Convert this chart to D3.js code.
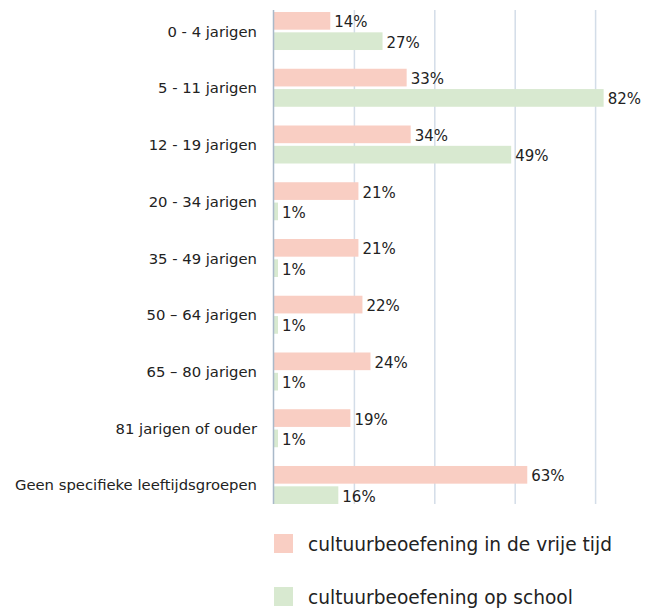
<!DOCTYPE html>
<html>
<head>
<meta charset="utf-8">
<script src="https://cdn.jsdelivr.net/npm/d3@7"></script>
<style>
  body { margin: 0; background: #fff; }
  text { font-family: "DejaVu Sans", sans-serif; fill: #222; }
</style>
</head>
<body>
<script>
// age groups, top to bottom
var categories = ["0 - 4 jarigen", "5 - 11 jarigen", "12 - 19 jarigen", "20 - 34 jarigen",
  "35 - 49 jarigen", "50 \u2013 64 jarigen", "65 \u2013 80 jarigen", "81 jarigen of ouder",
  "Geen specifieke leeftijdsgroepen"];
var seriesNames = ["cultuurbeoefening in de vrije tijd", "cultuurbeoefening op school"];
// bar lengths as drawn in the picture
var vrijeTijd = [14, 33, 34, 21, 21, 22, 24, 19, 63];
var opSchool = [27, 82, 59, 1, 1, 1, 1, 1, 16];
// printed labels (the 12-19 school bar is labelled 49% though drawn longer)
var vrijeTijdLabels = ["14%", "33%", "34%", "21%", "21%", "22%", "24%", "19%", "63%"];
var opSchoolLabels = ["27%", "82%", "49%", "1%", "1%", "1%", "1%", "1%", "16%"];
var gridTicks = [0, 20, 40, 60, 80];
var colors = ["#f9cec3", "#d8e9d0"];

var width = 664, height = 610;
var svg = d3.select("body").append("svg")
  .attr("width", width)
  .attr("height", height);

var x = d3.scaleLinear().domain([0, 100]).range([274, 676]);
var y = d3.scaleBand().domain(categories).range([12, 504]).paddingInner(0.33).paddingOuter(0);
var ySub = d3.scaleBand().domain([0, 1]).range([0, y.bandwidth()]).paddingInner(0.13);

// gridlines
svg.append("g").selectAll("line")
  .data(gridTicks.slice(1))
  .enter().append("line")
  .attr("x1", function(d) { return x(d); })
  .attr("x2", function(d) { return x(d); })
  .attr("y1", 10)
  .attr("y2", 504)
  .attr("stroke", "#d3dde8")
  .attr("stroke-width", 1.5);

var rows = categories.map(function(c, i) {
  return [c, vrijeTijd[i], opSchool[i], vrijeTijdLabels[i], opSchoolLabels[i]];
});

var groups = svg.append("g").selectAll("g")
  .data(rows)
  .enter().append("g")
  .attr("transform", function(d) { return "translate(0," + y(d[0]) + ")"; });

[0, 1].forEach(function(s) {
  groups.append("rect")
    .attr("x", x(0))
    .attr("y", ySub(s))
    .attr("width", function(d) { return x(d[s + 1]) - x(0); })
    .attr("height", ySub.bandwidth())
    .attr("fill", colors[s]);
  groups.append("text")
    .attr("x", function(d) { return x(d[s + 1]) + 4; })
    .attr("y", ySub(s) + ySub.bandwidth() / 2 + 1.5)
    .attr("dominant-baseline", "central")
    .attr("font-size", "15px")
    .text(function(d) { return d[s + 3]; });
});

// axis line
svg.append("line")
  .attr("x1", x(0) - 0.5).attr("x2", x(0) - 0.5)
  .attr("y1", 10).attr("y2", 504)
  .attr("stroke", "#a9b9c9")
  .attr("stroke-width", 1.5);

// category labels
svg.append("g").selectAll("text")
  .data(categories)
  .enter().append("text")
  .attr("x", 257)
  .attr("y", function(d) { return y(d) + y.bandwidth() / 2; })
  .attr("text-anchor", "end")
  .attr("dominant-baseline", "central")
  .attr("font-size", "14.8px")
  .text(function(d) { return d; });

// legend
var legend = svg.append("g").selectAll("g")
  .data(seriesNames)
  .enter().append("g")
  .attr("transform", function(d, i) { return "translate(274," + (534 + i * 53) + ")"; });
legend.append("rect")
  .attr("width", 19).attr("height", 19)
  .attr("fill", function(d, i) { return colors[i]; });
legend.append("text")
  .attr("x", 34).attr("y", 10)
  .attr("dominant-baseline", "central")
  .attr("font-size", "18.6px")
  .text(function(d) { return d; });
</script>
</body>
</html>
